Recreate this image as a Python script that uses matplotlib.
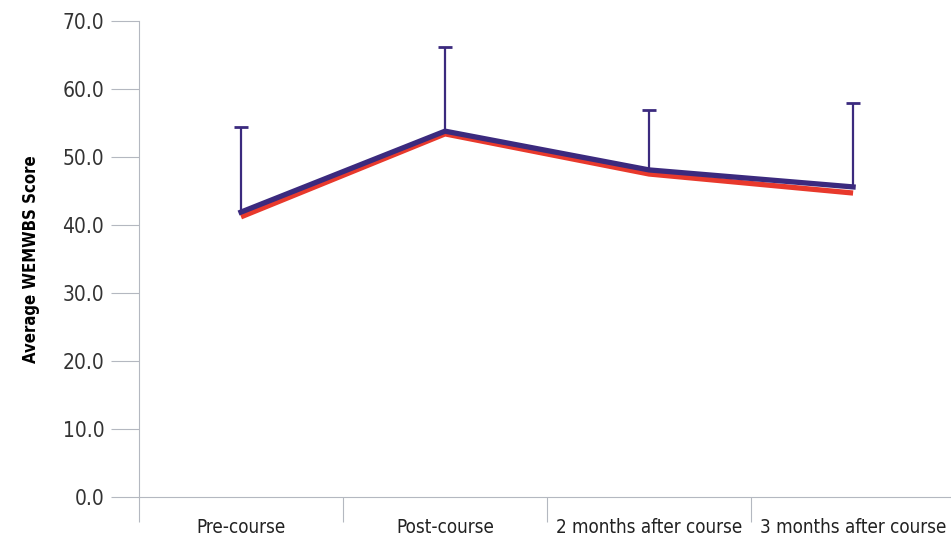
import matplotlib.pyplot as plt
from matplotlib import font_manager

categories = ["Pre-course", "Post-course", "2 months after course", "3 months after course"]
purple_scores = [41.9, 53.8, 48.1, 45.6]
purple_err = [12.5, 12.4, 8.8, 12.3]
red_scores = [41.2, 53.4, 47.5, 44.7]
y_ticks = [0, 10, 20, 30, 40, 50, 60, 70]

# condensed face if there is one
cond = [f for f in font_manager.fontManager.ttflist if f.stretch in ("condensed", "semi-condensed", 87.5, 75)]
if cond:
    plt.rcParams["font.family"] = [cond[0].name, "DejaVu Sans"]
    plt.rcParams["font.stretch"] = "condensed"
else:
    plt.rcParams["font.family"] = ["Liberation Sans", "DejaVu Sans"]

fig = plt.figure(figsize=(9.51, 5.42), dpi=100)
ax = fig.add_axes([139 / 951, 45 / 542, 811 / 951, 476 / 542])

x = list(range(len(categories)))
ax.plot(x, red_scores, color="#e8392c", lw=3.8, solid_capstyle="butt", zorder=2)
_, caps, _ = ax.errorbar(x, purple_scores, yerr=[[0] * 4, purple_err], color="#3b2a7e", lw=3.8,
                         elinewidth=1.6, capsize=5, capthick=2, zorder=3)
caps[0].set_visible(False)

ax.set_ylim(0, 70)
ax.set_xlim(-0.5, 3.475)
ax.set_yticks(y_ticks)
ax.set_yticklabels([f"{v:.1f}" for v in y_ticks])
ax.set_xticks([i - 0.5 for i in range(len(categories))])
ax.set_xticklabels([])
ax.set_xticks(x, minor=True)
ax.set_xticklabels(categories, minor=True)

grey = "#b4b8c0"
for s in ["top", "right"]:
    ax.spines[s].set_visible(False)
ax.spines["left"].set_color(grey)
ax.spines["bottom"].set_color(grey)
ax.tick_params(axis="y", length=20, color=grey, labelsize=15, labelcolor="#333333", pad=5)
ax.tick_params(axis="x", which="major", length=18, color=grey)
ax.tick_params(axis="x", which="minor", length=0, labelsize=13.5, labelcolor="#222222", pad=15)
ax.set_ylabel("Average WEMWBS Score", fontsize=12, fontweight="bold", labelpad=16)

fig.savefig("out.png", dpi=100)
